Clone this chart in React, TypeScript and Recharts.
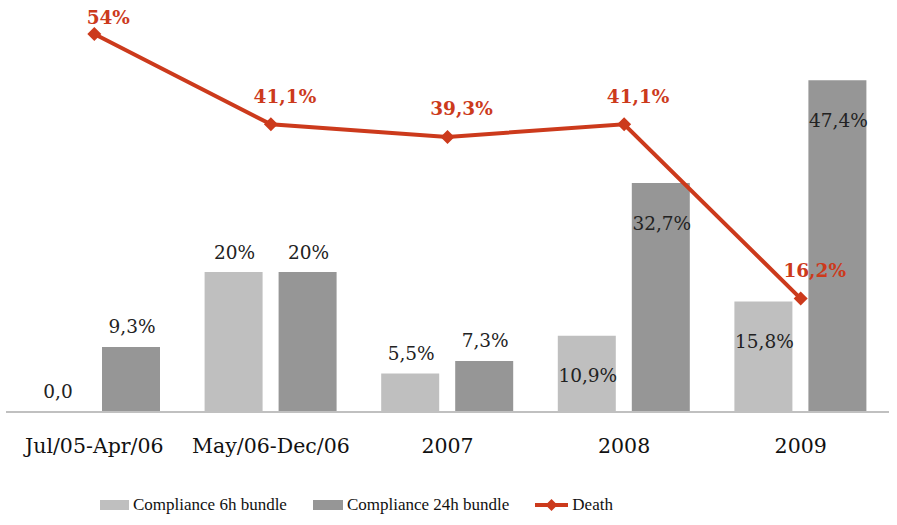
import { Bar, ComposedChart, LabelList, Legend, Line, XAxis, YAxis } from "recharts"

const periods = ["Jul/05-Apr/06", "May/06-Dec/06", "2007", "2008", "2009"]
const compliance6h = [0, 20, 5.5, 10.9, 15.8]
const compliance24h = [9.3, 20, 7.3, 32.7, 47.4]
const death = [54, 41.1, 39.3, 41.1, 16.2]

const FONT = "'DejaVu Serif', serif"
const LEGEND_FONT = "'Liberation Serif', serif"
const RED = "#cc3a1c"
const LIGHT = "#bfbfbf"
const DARK = "#969696"

const data = periods.map((p, i) => ({
  period: p,
  h6: compliance6h[i],
  h24: compliance24h[i],
  death: death[i],
}))

const fmt = (v: number) => (v === 0 ? "0,0" : `${String(v).replace(".", ",")}%`)

function BarLabel(props: any) {
  const { x, y, width, value, index } = props
  // 2008 and 2009 have the value written inside the bar
  const inside = index >= 3
  return (
    <text
      x={x + width / 2 + 1}
      y={inside ? y + 40 : y - 20}
      textAnchor="middle"
      dominantBaseline="central"
      fontFamily={FONT}
      fontSize={18.5}
      fill="#222"
    >
      {fmt(value)}
    </text>
  )
}

function DeathLabel(props: any) {
  const { x, y, value } = props
  return (
    <text
      x={x + 14}
      y={Math.max(y - 28, 17)}
      textAnchor="middle"
      dominantBaseline="central"
      fontFamily={FONT}
      fontSize={18.5}
      fontWeight="bold"
      fill={RED}
    >
      {fmt(value)}
    </text>
  )
}

function Diamond(props: any) {
  const { cx, cy } = props
  if (cx == null || cy == null) return null
  return <path d={`M${cx},${cy - 7} L${cx + 7},${cy} L${cx},${cy + 7} L${cx - 7},${cy} Z`} fill={RED} />
}

function PeriodTick(props: any) {
  const { x, y, payload } = props
  return (
    <text x={x} y={y + 26} textAnchor="middle" dominantBaseline="central" fontFamily={FONT} fontSize={20.5} fill="#111">
      {payload.value}
    </text>
  )
}

function LegendContent() {
  const item = { display: "flex", alignItems: "center", marginRight: 26 } as const
  const text = { fontFamily: LEGEND_FONT, fontSize: 17, color: "#111", marginLeft: 4 }
  return (
    <div style={{ display: "flex", alignItems: "center", height: 40, paddingLeft: 94 }}>
      <div style={item}>
        <div style={{ width: 29, height: 10, background: LIGHT }} />
        <span style={text}>Compliance 6h bundle</span>
      </div>
      <div style={item}>
        <div style={{ width: 30, height: 10, background: DARK }} />
        <span style={text}>Compliance 24h bundle</span>
      </div>
      <div style={item}>
        <svg width={33} height={14}>
          <line x1={0} y1={7} x2={33} y2={7} stroke={RED} strokeWidth={4} />
          <path d="M16.5,1 L22.5,7 L16.5,13 L10.5,7 Z" fill={RED} />
        </svg>
        <span style={text}>Death</span>
      </div>
    </div>
  )
}

export default function App() {
  return (
    <div style={{ position: "absolute", left: 0, top: 0, background: "#fff" }}>
      <ComposedChart
        width={897}
        height={525}
        data={data}
        margin={{ top: 34, right: 8, left: 6, bottom: 0 }}
        barGap={16}
      >
        <XAxis
          dataKey="period"
          axisLine={{ stroke: "#c0c0c0", strokeWidth: 2 }}
          tickLine={false}
          tick={<PeriodTick />}
          height={73}
          interval={0}
        />
        <YAxis hide domain={[0, 54]} />
        <Legend verticalAlign="bottom" content={<LegendContent />} wrapperStyle={{ height: 40 }} />
        <Bar dataKey="h6" name="Compliance 6h bundle" fill={LIGHT} barSize={58} minPointSize={0.5} isAnimationActive={false}>
          <LabelList dataKey="h6" content={<BarLabel />} />
        </Bar>
        <Bar dataKey="h24" name="Compliance 24h bundle" fill={DARK} barSize={58} isAnimationActive={false}>
          <LabelList dataKey="h24" content={<BarLabel />} />
        </Bar>
        <Line
          dataKey="death"
          name="Death"
          stroke={RED}
          strokeWidth={4}
          dot={<Diamond />}
          activeDot={false}
          isAnimationActive={false}
        >
          <LabelList dataKey="death" content={<DeathLabel />} />
        </Line>
      </ComposedChart>
    </div>
  )
}
